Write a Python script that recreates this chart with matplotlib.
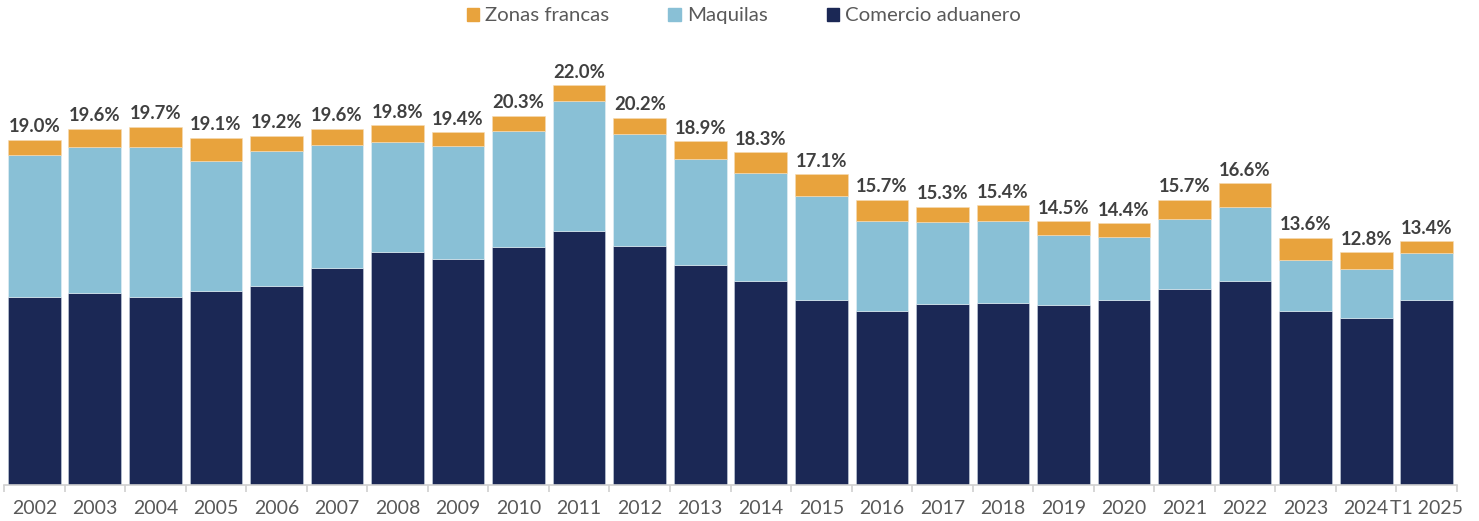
import matplotlib.pyplot as plt
from matplotlib.patches import Patch
import numpy as np

categories = ['2002', '2003', '2004', '2005', '2006', '2007', '2008', '2009', '2010',
              '2011', '2012', '2013', '2014', '2015', '2016', '2017', '2018', '2019',
              '2020', '2021', '2022', '2023', '2024', 'T1 2025']
comercio = [10.35, 10.55, 10.35, 10.65, 10.95, 11.95, 12.8, 12.45, 13.1, 13.95, 13.15, 12.1,
            11.2, 10.2, 9.55, 9.95, 10.0, 9.9, 10.2, 10.8, 11.2, 9.55, 9.2, 10.2]
maquilas = [7.8, 8.05, 8.25, 7.15, 7.4, 6.75, 6.05, 6.2, 6.35, 7.15, 6.15, 5.85,
            5.95, 5.7, 5.0, 4.5, 4.5, 3.85, 3.45, 3.85, 4.1, 2.85, 2.7, 2.55]
totales = [19.0, 19.6, 19.7, 19.1, 19.2, 19.6, 19.8, 19.4, 20.3, 22.0, 20.2, 18.9,
           18.3, 17.1, 15.7, 15.3, 15.4, 14.5, 14.4, 15.7, 16.6, 13.6, 12.8, 13.4]
zonas = [round(t - c - m, 2) for t, c, m in zip(totales, comercio, maquilas)]

c_navy = '#1B2855'
c_light = '#89C0D6'
c_orange = '#E8A33D'

plt.rcParams['font.family'] = ['Lato', 'DejaVu Sans']

fig = plt.figure(figsize=(14.79, 5.21), dpi=100)
ax = fig.add_axes([4 / 1479, 1 - 485 / 521, 1453 / 1479, 445 / 521])

x = np.arange(len(categories))
w = 0.87
ax.bar(x, comercio, w, color=c_navy, edgecolor='#c9d3e0', linewidth=0.4)
ax.bar(x, maquilas, w, bottom=comercio, color=c_light, edgecolor='#e6f0f5', linewidth=0.4)
bot2 = np.array(comercio) + np.array(maquilas)
ax.bar(x, zonas, w, bottom=bot2, color=c_orange, edgecolor='#f5dcb5', linewidth=0.4)

for xi, t in zip(x, totales):
    ax.text(xi, t + 0.25, f'{t:.1f}%', ha='center', va='bottom', fontsize=13.3,
            fontweight='bold', color='#404040')

ax.set_xlim(-0.5, len(categories) - 0.5)
ax.set_ylim(0, 24.48)
ax.set_yticks([])
for s in ['top', 'right', 'left']:
    ax.spines[s].set_visible(False)
ax.spines['bottom'].set_color('#d0d0d0')
ax.spines['bottom'].set_linewidth(1.2)

ax.set_xticks(x)
ax.set_xticklabels(categories, fontsize=14, color='#595959')
ax.tick_params(axis='x', which='major', length=0, pad=11)
ax.set_xticks(np.arange(-0.5, len(categories), 1), minor=True)
ax.tick_params(axis='x', which='minor', length=5, color='#d0d0d0', width=1.2)

handles = [Patch(color=c_orange, label='Zonas francas'),
           Patch(color=c_light, label='Maquilas'),
           Patch(color=c_navy, label='Comercio aduanero')]
fig.legend(handles=handles, loc='center', bbox_to_anchor=(0.503, 1 - 16 / 521), ncol=3,
           frameon=False, fontsize=14.7, handlelength=0.6, handleheight=0.6,
           handletextpad=0.3, columnspacing=2.9, labelcolor='#595959')

fig.savefig('out.png', dpi=100)
